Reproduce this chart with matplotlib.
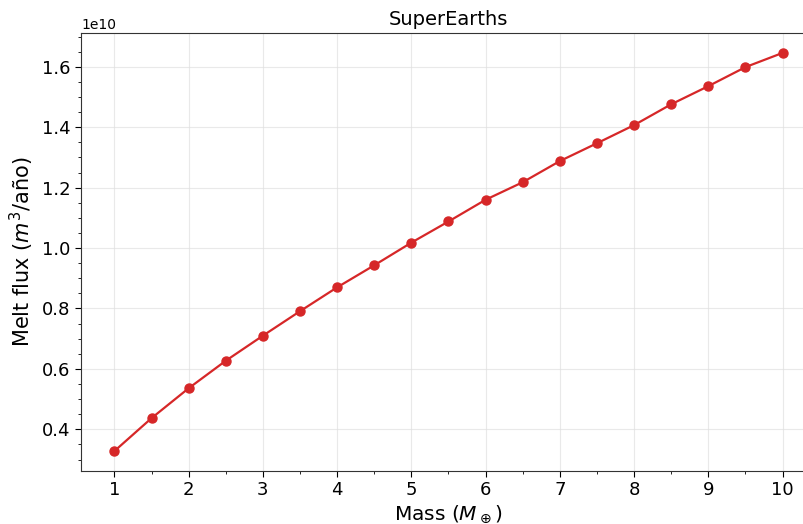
import matplotlib
matplotlib.use("Agg")
import matplotlib.pyplot as plt
from matplotlib.ticker import AutoMinorLocator

# planet mass (Earth masses) and melt flux (m^3/yr)
mass = [1, 1.5, 2, 2.5, 3, 3.5, 4, 4.5, 5, 5.5,
        6, 6.5, 7, 7.5, 8, 8.5, 9, 9.5, 10]
melt_flux = [0.328, 0.437, 0.536, 0.627, 0.710, 0.791, 0.870, 0.943, 1.018, 1.088,
             1.160, 1.218, 1.288, 1.347, 1.407, 1.476, 1.536, 1.599, 1.646]
melt_flux = [v * 1e10 for v in melt_flux]

fig = plt.figure(figsize=(8.04, 5.24), dpi=100)
ax = fig.add_axes([81 / 804, 53 / 524, 735 / 804, 438 / 524])

ax.plot(mass, melt_flux, color="#d62728", marker="o", markersize=6.5, linewidth=1.6)

ax.grid(True, color="#e0e0e0", linewidth=0.8, alpha=0.7)
ax.xaxis.set_minor_locator(AutoMinorLocator(2))
ax.yaxis.set_minor_locator(AutoMinorLocator(4))
ax.tick_params(axis="both", which="major", labelsize=13, length=4)
ax.tick_params(axis="both", which="minor", length=2.5)
ax.set_xticks(range(1, 11))

for s in ax.spines.values():
    s.set_color("#333333")

ax.set_xlabel(r"Mass ($M_\oplus$)", fontsize=14.5, labelpad=3)
ax.set_ylabel(r"Melt flux ($m^3$/año)", fontsize=15)
ax.set_title("SuperEarths", fontsize=14)

fig.savefig("out.png", dpi=100)
